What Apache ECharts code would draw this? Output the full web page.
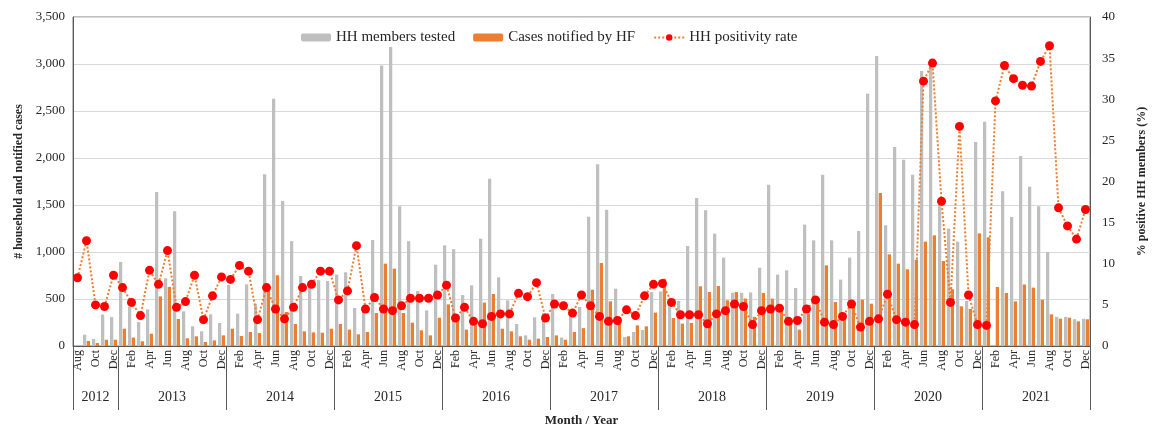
<!DOCTYPE html>
<html><head><meta charset="utf-8">
<script src="https://cdn.jsdelivr.net/npm/echarts@6/dist/echarts.min.js"></script>
<style>html,body{margin:0;padding:0;background:#fff}#c{width:1153px;height:428px}</style>
</head><body><div id="c"></div>
<script>
const monthNames = ['Jan','Feb','Mar','Apr','May','Jun','Jul','Aug','Sep','Oct','Nov','Dec'];
const years = ['2012','2013','2014','2015','2016','2017','2018','2019','2020','2021'];
const monthsPerYear = [5,12,12,12,12,12,12,12,12,12];

// HH members tested (Aug 2012 - Dec 2021)
const tested = [
  null,120,75,335,308,
  894,420,255,390,1638,720,1433,369,209,156,337,245,
  650,344,656,450,1826,2631,1543,1115,745,625,700,691,
  760,784,404,380,1128,2985,3180,1487,1115,585,379,865,
  1071,1030,542,645,1142,1780,730,486,234,113,305,348,
  553,90,308,415,1375,1933,1450,610,96,149,170,574,
  580,500,480,1064,1574,1443,1195,940,567,567,570,833,
  1716,759,805,617,1291,1124,1823,1124,706,940,1223,2684,
  3085,1284,2117,1982,1823,2925,3050,1500,1248,1110,480,2170,
  2385,null,1645,1372,2020,1695,1486,1000,310,310,285,290
];
// Cases notified by HF
const cases = [
  null,53,32,67,67,
  184,89,50,131,528,628,287,82,103,43,60,113,
  184,106,149,138,635,752,362,234,156,145,142,184,
  234,174,124,149,351,876,823,351,248,167,113,301,
  443,255,174,220,461,553,184,156,103,67,78,96,
  113,67,149,190,599,883,475,238,103,220,209,355,
  716,298,238,245,635,574,638,486,574,504,310,564,
  504,362,273,174,344,450,858,468,326,415,493,450,
  1628,975,876,816,918,1110,1177,904,605,422,394,1198,
  1156,628,564,474,654,621,493,337,291,301,262,284
];
// HH positivity rate (%)
const rate = [
  8.3,12.8,5.0,4.8,8.6,
  7.1,5.3,3.7,9.2,7.5,11.6,4.7,5.4,8.6,3.2,6.1,8.4,
  8.1,9.8,9.1,3.2,7.1,4.5,3.3,4.7,7.1,7.5,9.1,9.1,
  5.6,6.7,12.2,4.5,5.9,4.5,4.3,4.9,5.8,5.8,5.8,6.2,
  7.4,3.4,4.7,3.0,2.7,3.6,3.9,3.9,6.4,6.0,7.7,3.4,
  5.1,4.9,4.0,6.2,4.9,3.6,3.0,3.1,4.4,3.7,6.1,7.5,
  7.6,5.3,3.8,3.8,3.8,2.7,3.9,4.3,5.1,4.8,2.6,4.3,
  4.5,4.6,3.0,3.1,4.5,5.6,2.9,2.6,3.6,5.1,2.3,3.0,
  3.3,6.3,3.2,2.9,2.6,32.2,34.4,17.6,5.3,26.7,6.2,2.6,
  2.5,29.8,34.1,32.5,31.7,31.6,34.6,36.5,16.8,14.6,13.0,16.6
];

// categories: month names from Aug 2012
const categories = [];
years.forEach((y, yi) => {
  const n = monthsPerYear[yi];
  for (let k = 12 - n; k < 12; k++) categories.push(monthNames[k]);
});
const yearBounds = [0];
monthsPerYear.forEach(n => yearBounds.push(yearBounds[yearBounds.length - 1] + n));
const yearMids = years.map((y, i) => (yearBounds[i] + yearBounds[i + 1]) / 2);

const FONT = '"Liberation Serif", "Times New Roman", serif';
const TXT = '#262626';

const chart = echarts.init(document.getElementById('c'));
chart.setOption({
  animation: false,
  textStyle: { fontFamily: FONT },
  grid: { left: 73, right: 63, top: 17, bottom: 82, containLabel: false, outerBoundsMode: 'none',
    show: true, borderColor: '#7f7f7f', borderWidth: 1 },
  legend: {
    top: 25, left: 296, itemGap: 18, itemWidth: 30, itemHeight: 8,
    textStyle: { fontFamily: FONT, fontSize: 15, color: TXT },
    data: ['HH members tested', 'Cases notified by HF', 'HH positivity rate']
  },
  xAxis: [
    {
      type: 'category', data: categories, position: 'bottom',
      axisLine: { show: true, lineStyle: { color: '#595959' } },
      axisTick: { show: false },
      axisLabel: { interval: 1, rotate: 90, margin: 4, fontFamily: FONT, fontSize: 12, color: TXT }
    },
    {
      type: 'value', min: 0, max: yearBounds[yearBounds.length - 1], position: 'bottom',
      axisLine: { show: false }, splitLine: { show: false },
      axisTick: { show: true, customValues: yearBounds, length: 64, lineStyle: { color: '#595959' } },
      axisLabel: {
        customValues: yearMids, margin: 44, fontFamily: FONT, fontSize: 14, color: TXT,
        formatter: (v) => years[yearMids.indexOf(v)]
      },
      name: 'Month / Year', nameLocation: 'middle', nameGap: 68,
      nameTextStyle: { fontFamily: FONT, fontSize: 13, fontWeight: 'bold', color: TXT }
    }
  ],
  yAxis: [
    {
      type: 'value', min: 0, max: 3500, interval: 500,
      axisLine: { show: true, lineStyle: { color: '#595959' } },
      axisTick: { show: false },
      axisLabel: { fontFamily: FONT, fontSize: 13, color: TXT, margin: 8,
        formatter: v => v.toLocaleString('en-US') },
      splitLine: { show: true, lineStyle: { color: '#d9d9d9' } },
      name: '# household and notified cases', nameLocation: 'middle', nameGap: 48,
      nameTextStyle: { fontFamily: FONT, fontSize: 12, fontWeight: 'bold', color: TXT }
    },
    {
      type: 'value', min: 0, max: 40, interval: 5,
      axisLine: { show: true, lineStyle: { color: '#595959' } },
      axisTick: { show: false },
      axisLabel: { fontFamily: FONT, fontSize: 13, color: TXT, margin: 12 },
      splitLine: { show: false },
      name: '% positive HH members (%)', nameLocation: 'middle', nameGap: 46,
      nameTextStyle: { fontFamily: FONT, fontSize: 12, fontWeight: 'bold', color: TXT }
    }
  ],
  series: [
    { name: 'HH members tested', type: 'bar', data: tested, itemStyle: { color: '#bfbfbf' },
      barGap: '15%', barCategoryGap: '22%' },
    { name: 'Cases notified by HF', type: 'bar', data: cases, itemStyle: { color: '#ed7d31' },
      barGap: '15%', barCategoryGap: '22%' },
    { name: 'HH positivity rate', type: 'line', yAxisIndex: 1, data: rate,
      symbol: 'circle', symbolSize: 9, showSymbol: true, showAllSymbol: true,
      lineStyle: { color: '#ed7d31', width: 2, type: 'dotted' },
      itemStyle: { color: '#ff0000' }, z: 5 }
  ]
});
</script>
</body></html>
